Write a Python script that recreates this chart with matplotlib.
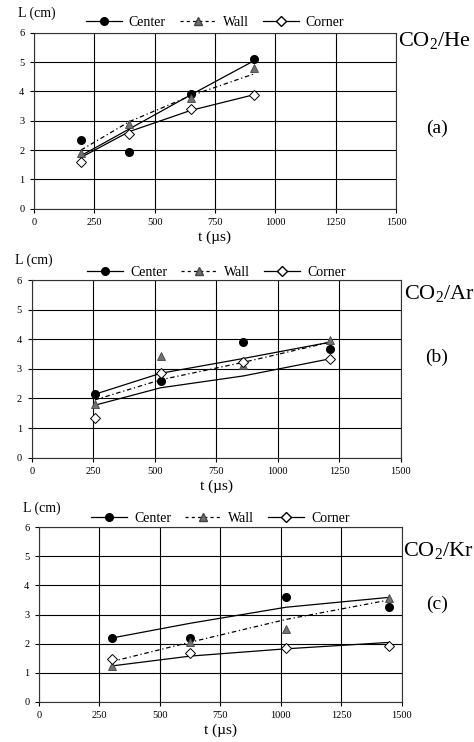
import matplotlib.pyplot as plt
from matplotlib.lines import Line2D

plt.rcParams['font.family'] = ['Liberation Serif', 'DejaVu Serif']
plt.rcParams['mathtext.fontset'] = 'custom'
plt.rcParams['mathtext.rm'] = 'Liberation Serif'

# (a) CO2/He
t_a = [195, 395, 649, 913]
center_a = [2.34, 1.95, 3.91, 5.1]
wall_a = [1.91, 2.88, 3.77, 4.79]
corner_a = [1.58, 2.55, 3.40, 3.89]
center_fit_a = [1.81, 2.72, 3.88, 5.05]
wall_fit_a = [2.0, 2.97, 3.85, 4.6]
corner_fit_a = [1.75, 2.63, 3.35, 3.89]

# (b) CO2/Ar
t_b = [256, 524, 860, 1213]
center_b = [2.16, 2.59, 3.92, 3.66]
wall_b = [1.81, 3.42, 3.13, 3.99]
corner_b = [1.35, 2.85, 3.24, 3.34]
center_fit_b = [2.14, 2.85, 3.35, 3.9]
wall_fit_b = [1.95, 2.63, 3.22, 3.9]
corner_fit_b = [1.77, 2.36, 2.76, 3.34]

# (c) CO2/Kr
t_c = [300, 626, 1021, 1447]
center_c = [2.2, 2.2, 3.61, 3.27]
wall_c = [1.24, 2.06, 2.5, 3.56]
corner_c = [1.46, 1.69, 1.84, 1.93]
center_fit_c = [2.19, 2.7, 3.25, 3.59]
wall_fit_c = [1.38, 2.05, 2.83, 3.5]
corner_fit_c = [1.23, 1.57, 1.82, 2.04]

xticks = [0, 250, 500, 750, 1000, 1250, 1500]
xlabels = ['0', '250', '500', '750', '1000', '1250', '1500']

dashdot = (0, (3.6, 2.2, 1, 2.2))
tri_col = '#707070'

fig = plt.figure(figsize=(4.74, 7.42), dpi=100)

# axes box, gas label (x, y), panel tag y, legend y
panels = [
    ([0.0717, 0.7187, 0.7637, 0.2372], t_a, center_a, wall_a, corner_a,
     center_fit_a, wall_fit_a, corner_fit_a, 'CO$_2$/He', 398, 0.938, '(a)', 0.827, 1.057),
    ([0.0669, 0.3832, 0.7785, 0.2394], t_b, center_b, wall_b, corner_b,
     center_fit_b, wall_fit_b, corner_fit_b, 'CO$_2$/Ar', 404, 0.597, '(b)', 0.519, 1.045),
    ([0.0823, 0.0543, 0.7652, 0.2350], t_c, center_c, wall_c, corner_c,
     center_fit_c, wall_fit_c, corner_fit_c, 'CO$_2$/Kr', 403, 0.250, '(c)', 0.186, 1.05),
]

for (pos, t, cen, wal, cor, cf, wf, kf, gas, gx, gy, tag, ty, ly) in panels:
    ax = fig.add_axes(pos)
    ax.set_xlim(0, 1500)
    ax.set_ylim(0, 6)
    ax.set_xticks(xticks)
    ax.set_xticklabels(xlabels)
    ax.set_yticks(range(7))
    ax.grid(True, color='black', lw=0.8)
    ax.set_axisbelow(True)
    for s in ax.spines.values():
        s.set_color('#333333')
        s.set_linewidth(0.8)
    ax.tick_params(labelsize=7.5, length=3, width=0.8, pad=4)

    ax.plot(t, cf, color='black', lw=0.9)
    ax.plot(t, wf, color='black', lw=0.9, linestyle=dashdot)
    ax.plot(t, kf, color='black', lw=0.9)
    ax.plot(t, cen, 'o', color='black', ms=5.5, zorder=5)
    ax.plot(t, wal, '^', mfc=tri_col, mec='#444444', ms=5.5, mew=0.6, zorder=5)
    ax.plot(t, cor, 'D', mfc='white', mec='black', ms=4.8, mew=0.7, zorder=5)

    ax.set_xlabel('t (µs)', fontsize=11, labelpad=2)
    ax.text(-0.045, 1.11, 'L (cm)', transform=ax.transAxes, fontsize=10,
            ha='left', va='center')

    handles = [
        Line2D([], [], color='black', lw=0.9, marker='o', ms=5.5),
        Line2D([], [], color='black', lw=0.9, linestyle=(0, (2.5, 2.5)),
               marker='^', ms=5.5, mfc=tri_col, mec='#444444'),
        Line2D([], [], color='black', lw=0.9, marker='D', ms=4.8,
               mfc='white', mec='black'),
    ]
    ax.legend(handles, ['Center', 'Wall', 'Corner'], ncol=3, loc='center',
              bbox_to_anchor=(0.5, ly), frameon=False, fontsize=10,
              handlelength=2.6, handletextpad=0.5, columnspacing=1.0,
              borderaxespad=0, borderpad=0)

    fig.text(gx / 474, gy, gas, fontsize=16, ha='left', va='baseline')
    fig.text(437 / 474, ty, tag, fontsize=14, ha='center', va='center')

fig.savefig('out.png', dpi=100)
